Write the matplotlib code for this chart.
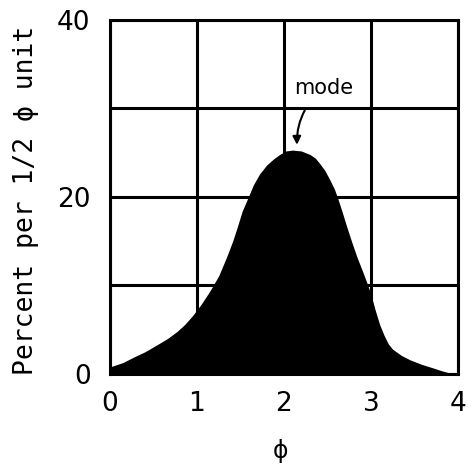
import matplotlib
matplotlib.use("Agg")
import matplotlib.pyplot as plt

phi = [0.0, 0.15, 0.27, 0.4, 0.54, 0.66, 0.77, 0.86, 0.95, 1.05, 1.15, 1.25, 1.34,
       1.41, 1.46, 1.52, 1.59, 1.65, 1.72, 1.8, 1.88, 1.95, 2.02, 2.1, 2.2, 2.3,
       2.36, 2.41, 2.47, 2.53, 2.58, 2.62, 2.67, 2.72, 2.78, 2.84, 2.9, 2.95, 3.0,
       3.05, 3.1, 3.15, 3.2, 3.25, 3.35, 3.45, 3.58, 3.71, 3.82, 3.91, 4.0]
pct = [0.8, 1.3, 1.9, 2.5, 3.3, 4.0, 4.8, 5.6, 6.6, 7.9, 9.4, 11.1, 13.2,
       15.0, 16.5, 18.4, 20.0, 21.4, 22.6, 23.6, 24.3, 24.8, 25.2, 25.3, 25.2, 24.8,
       24.4, 23.8, 23.0, 21.9, 20.9, 19.8, 18.3, 16.7, 14.9, 13.2, 11.7, 10.4, 9.0,
       7.2, 5.6, 4.4, 3.4, 2.8, 2.1, 1.6, 1.1, 0.7, 0.35, 0.1, 0.0]
x_ticks = [0, 1, 2, 3, 4]
y_ticks = [0, 20, 40]
y_grid = [0, 10, 20, 30, 40]
mode_label = "mode"
mode_xy = (2.15, 25.9)
mode_text_xy = (2.46, 32.3)

fig = plt.figure(figsize=(4.74, 4.65), dpi=100)
ax = fig.add_axes([0.232, 0.1957, 0.734, 0.7613])
ax.set_xlim(0, 4)
ax.set_ylim(0, 40)

for x in x_ticks:
    ax.axvline(x, color="black", lw=2.2, zorder=1)
for y in y_grid:
    ax.axhline(y, color="black", lw=2.2, zorder=1)

ax.fill_between(phi, 0, pct, color="black", lw=0, zorder=2)

for s in ax.spines.values():
    s.set_linewidth(2.2)
    s.set_zorder(3)

ax.set_xticks(x_ticks)
ax.set_yticks(y_ticks)
ax.tick_params(length=0, labelsize=19, pad=12)
ax.tick_params(axis="y", pad=14)

ax.set_xlabel("ϕ", fontsize=17)
ax.xaxis.set_label_coords(0.49, -0.185)
ax.set_ylabel("Percent per 1/2 ϕ unit", fontsize=19, family="DejaVu Sans Mono")
ax.yaxis.set_label_coords(-0.205, 0.49)

ax.annotate(mode_label, xy=mode_xy, xytext=mode_text_xy, fontsize=15,
            ha="center", va="center",
            arrowprops=dict(arrowstyle="-|>", color="black", lw=1.5,
                            connectionstyle="arc3,rad=0.25", shrinkA=8, shrinkB=0,
                            mutation_scale=12),
            zorder=4)

fig.savefig("out.png", dpi=100)
